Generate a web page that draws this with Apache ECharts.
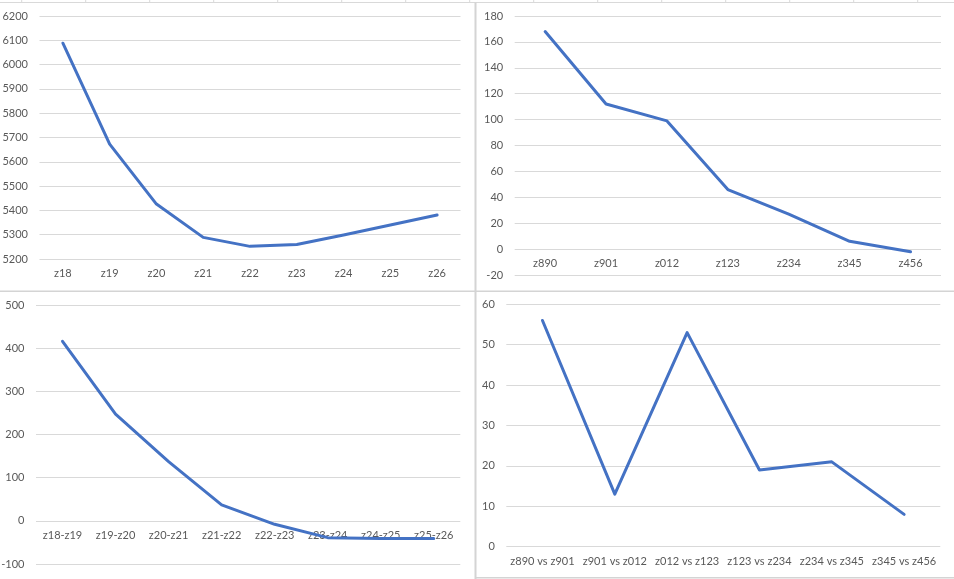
<!DOCTYPE html>
<html>
<head>
<meta charset="utf-8">
<script src="https://cdn.jsdelivr.net/npm/echarts@6/dist/echarts.min.js"></script>
<style>
  html, body { margin: 0; padding: 0; background: #fff; }
  #chart { width: 954px; height: 579px; }
</style>
</head>
<body>
<div id="chart"></div>
<script>
// 左上：z18 ~ z26
const catsA = ['z18', 'z19', 'z20', 'z21', 'z22', 'z23', 'z24', 'z25', 'z26']
const valsA = [6088, 5673, 5426, 5289, 5252, 5260, 5299, 5340, 5381]
// 右上：z890 ~ z456
const catsB = ['z890', 'z901', 'z012', 'z123', 'z234', 'z345', 'z456']
const valsB = [168, 112, 99, 46, 27, 6, -2]
// 左下：相邻差值
const catsC = ['z18-z19', 'z19-z20', 'z20-z21', 'z21-z22', 'z22-z23', 'z23-z24', 'z24-z25', 'z25-z26']
const valsC = [416, 247, 137, 37, -8, -39, -41, -41]
// 右下：相邻差值
const catsD = ['z890 vs z901', 'z901 vs z012', 'z012 vs z123', 'z123 vs z234', 'z234 vs z345', 'z345 vs z456']
const valsD = [56, 13, 53, 19, 21, 8]

const chart = echarts.init(document.getElementById('chart'))

const font = 'Lato'
const textColor = '#595959'
const gridColor = '#d9d9d9'
const lineColor = '#4472C4'

// 四个图的位置
const grids = [
  { left: 39.5, top: 16, width: 421, height: 243 },
  { left: 514.7, top: 16, width: 426.3, height: 259 },
  { left: 36, top: 305, width: 424.3, height: 259 },
  { left: 506.3, top: 304.3, width: 434, height: 242.4 }
]
const yRanges = [
  { min: 5200, max: 6200, interval: 100 },
  { min: -20, max: 180, interval: 20 },
  { min: -100, max: 500, interval: 100 },
  { min: 0, max: 60, interval: 10 }
]
const cats = [catsA, catsB, catsC, catsD]
const vals = [valsA, valsB, valsC, valsD]

// 横轴放在 0 的位置（min 为负时上移）
function zeroOffset(i) {
  const r = yRanges[i]
  if (r.min >= 0) return 0
  return -grids[i].height * (0 - r.min) / (r.max - r.min)
}

const xAxis = cats.map((c, i) => ({
  type: 'category',
  gridIndex: i,
  data: c,
  boundaryGap: true,
  offset: zeroOffset(i),
  axisLine: { show: false, onZero: false },
  axisTick: { show: false },
  axisLabel: { interval: 0, margin: 9, color: textColor, fontFamily: font, fontSize: 11 }
}))

const yAxis = yRanges.map((r, i) => ({
  type: 'value',
  gridIndex: i,
  min: r.min,
  max: r.max,
  interval: r.interval,
  axisLine: { show: false },
  axisTick: { show: false },
  axisLabel: {
    margin: 11.5,
    color: textColor,
    fontFamily: font,
    fontSize: 11,
    formatter: v => String(v)
  },
  splitLine: { show: true, lineStyle: { color: gridColor, width: 1 } }
}))

const series = vals.map((v, i) => ({
  type: 'line',
  xAxisIndex: i,
  yAxisIndex: i,
  data: v,
  symbol: 'none',
  smooth: false,
  animation: false,
  lineStyle: { color: lineColor, width: 3, cap: 'round', join: 'round' }
}))

// 背景里的表格线
const sheetLines = []
for (let x = 21.7; x < 954; x += 64) {
  sheetLines.push({ type: 'line', shape: { x1: x, y1: 0, x2: x, y2: 2.5 }, style: { stroke: gridColor, lineWidth: 1 } })
}
sheetLines.push(
  { type: 'line', shape: { x1: 0, y1: 2.5, x2: 954, y2: 2.5 }, style: { stroke: gridColor, lineWidth: 1 } },
  { type: 'line', shape: { x1: 475.5, y1: 2.5, x2: 475.5, y2: 579 }, style: { stroke: '#d4d4d4', lineWidth: 2 } },
  { type: 'line', shape: { x1: 0, y1: 291.2, x2: 954, y2: 291.2 }, style: { stroke: '#d4d4d4', lineWidth: 1.5 } },
  { type: 'line', shape: { x1: 475.5, y1: 577.7, x2: 954, y2: 577.7 }, style: { stroke: '#d4d4d4', lineWidth: 1.5 } }
)

chart.setOption({
  animation: false,
  backgroundColor: '#fff',
  grid: grids.map(g => Object.assign({ containLabel: false, outerBoundsMode: 'none' }, g)),
  xAxis,
  yAxis,
  series,
  graphic: sheetLines
})
</script>
</body>
</html>
